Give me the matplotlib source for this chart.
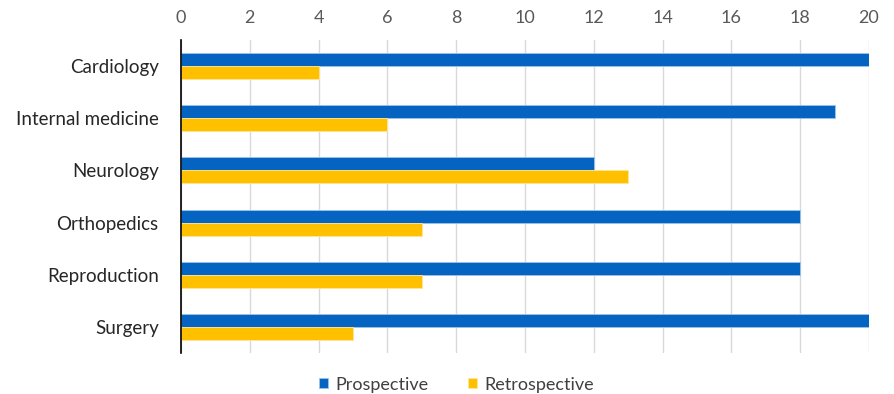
import matplotlib
matplotlib.use('Agg')
import matplotlib.pyplot as plt
import numpy as np

# Study counts per specialty
departments = ['Cardiology', 'Internal medicine', 'Neurology', 'Orthopedics', 'Reproduction', 'Surgery']
prospective = [20, 19, 12, 18, 18, 20]
retrospective = [4, 6, 13, 7, 7, 5]

plt.rcParams['font.family'] = ['Lato', 'DejaVu Sans']

fig = plt.figure(figsize=(8.95, 3.94), dpi=100)
ax = fig.add_axes([0.2022, 0.104, 0.7687, 0.7945])

y = np.arange(len(departments))
h = 0.25
ax.barh(y - h / 2, prospective, height=h, color='#0563C1', edgecolor='#9DC3E6',
        linewidth=0.6, label='Prospective', zorder=3)
ax.barh(y + h / 2, retrospective, height=h, color='#FFC000', edgecolor='#FFE699',
        linewidth=0.6, label='Retrospective', zorder=3)

ax.set_xlim(0, 20)
ax.set_ylim(len(departments) - 0.5, -0.5)
ax.set_xticks(range(0, 21, 2))
ax.set_yticks(y)
ax.set_yticklabels(departments)
ax.xaxis.tick_top()
ax.tick_params(axis='x', length=0, pad=10, labelsize=13, labelcolor='#595959')
ax.tick_params(axis='y', length=0, pad=16, labelsize=13.5, labelcolor='#262626')
ax.grid(axis='x', color='#D9D9D9', linewidth=1, zorder=0)

for side in ['top', 'right', 'bottom']:
    ax.spines[side].set_visible(False)
ax.spines['left'].set_color('#000000')
ax.spines['left'].set_linewidth(1.2)
ax.spines['left'].set_zorder(4)

fig.legend(loc='lower center', bbox_to_anchor=(0.51, -0.038), ncol=2, frameon=False,
           fontsize=13, handlelength=0.5, handleheight=0.5, handletextpad=0.4,
           columnspacing=2.2, labelcolor='#404040')

plt.savefig('out.png', dpi=100)
